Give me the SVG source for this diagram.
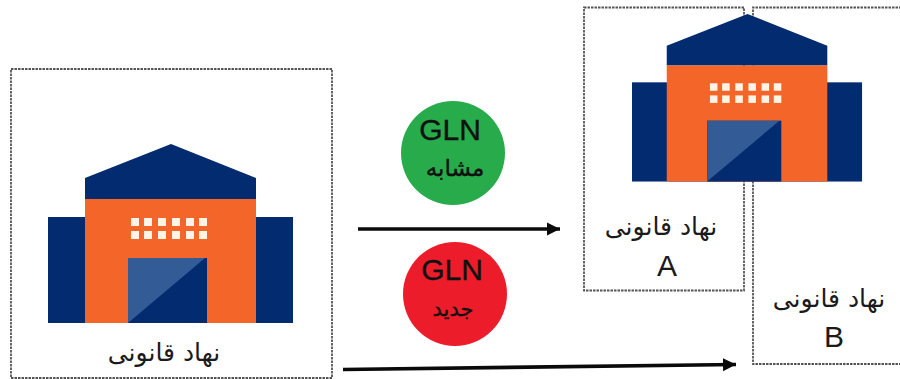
<svg xmlns="http://www.w3.org/2000/svg" width="900" height="379" viewBox="0 0 900 379">
<defs>
<marker id="arrow" markerUnits="userSpaceOnUse" markerWidth="14" markerHeight="14" refX="13" refY="7" orient="auto"><path d="M0 0.500L13 7L0 13.500Z" fill="#0a0a0a"/></marker>
<g id="bldg">
<rect x="0" y="73" width="245" height="106" fill="#032b6f"/>
<path d="M37 34L123 0L208 34V55H37Z" fill="#032b6f"/>
<rect x="37" y="55" width="171" height="124" fill="#f4652a"/>
<rect x="80" y="114" width="79" height="65" fill="#032b6f"/>
<path d="M80 114H157L80 179Z" fill="#335b96"/>
<g fill="#fff4e6">
<rect x="83" y="74" width="8" height="8"/><rect x="96" y="74" width="8" height="8"/><rect x="110" y="74" width="8" height="8"/><rect x="124" y="74" width="8" height="8"/><rect x="138" y="74" width="8" height="8"/><rect x="151" y="74" width="8" height="8"/>
<rect x="83" y="87" width="8" height="8"/><rect x="96" y="87" width="8" height="8"/><rect x="110" y="87" width="8" height="8"/><rect x="124" y="87" width="8" height="8"/><rect x="138" y="87" width="8" height="8"/><rect x="151" y="87" width="8" height="8"/>
</g>
</g>
</defs>
<style>
.box{fill:#fff;stroke:#555;stroke-width:1.8;stroke-dasharray:2.500 1}
.lat{font-family:"Liberation Sans",Arial,sans-serif;fill:#1a1a1a;text-anchor:middle}
.ar{font-family:"DejaVu Sans",sans-serif;fill:#1a1a1a;text-anchor:middle}
.dark{fill:#111;stroke:#111;stroke-width:.4}
.conn{fill:none;stroke:#0a0a0a;stroke-width:3.6}
</style>
<rect width="900" height="379" fill="#fff"/>
<g id="node-source">
<rect class="box" x="11" y="69" width="321" height="309"/>
<use href="#bldg" x="48" y="144"/>
<text class="ar" x="164" y="361" font-size="25" direction="rtl">نهاد قانونی</text>
</g>
<g id="node-b">
<path class="box" d="M905 7.500H753V364H905"/>
<text class="ar" x="829" y="307" font-size="25" direction="rtl">نهاد قانونی</text>
<text class="lat" x="834" y="347" font-size="30">B</text>
</g>
<g id="node-a">
<rect class="box" x="584" y="7.500" width="160" height="283"/>
<text class="ar" x="661" y="235" font-size="25" direction="rtl">نهاد قانونی</text>
<text class="lat" x="667" y="276" font-size="30">A</text>
<use href="#bldg" transform="translate(632 14) scale(.939 .936)"/>
</g>
<g id="node-gln-similar">
<circle cx="453" cy="153" r="52" fill="#27ab4b"/>
<text class="lat dark" x="450" y="140" font-size="30">GLN</text>
<text class="ar dark" x="455" y="176" font-size="23" direction="rtl">مشابه</text>
</g>
<g id="node-gln-new">
<circle cx="455" cy="294" r="52" fill="#ec1c2a"/>
<text class="lat dark" x="452" y="280" font-size="30">GLN</text>
<text class="ar dark" x="453" y="316" font-size="21" direction="rtl">جدید</text>
</g>
<g id="connectors">
<path class="conn" d="M358 229H560" marker-end="url(#arrow)"/>
<path class="conn" d="M343 369.500L736 364.500" marker-end="url(#arrow)"/>
</g>
</svg>
